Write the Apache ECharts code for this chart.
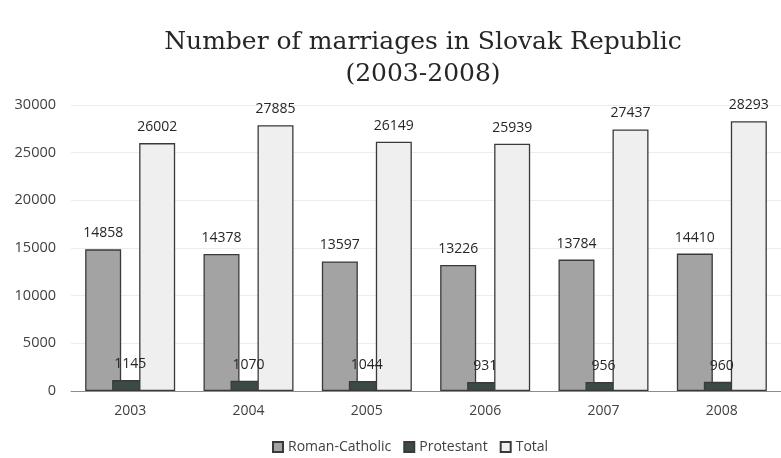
<!DOCTYPE html>
<html><head><meta charset="utf-8">
<script src="https://cdn.jsdelivr.net/npm/echarts@6/dist/echarts.min.js"></script>
<style>html,body{margin:0;padding:0;background:#fff}#c{width:781px;height:458px}</style>
</head><body><div id="c"></div>
<script>
const years = ['2003','2004','2005','2006','2007','2008'];
const romanCatholic = [14858, 14378, 13597, 13226, 13784, 14410];
const protestant = [1145, 1070, 1044, 931, 956, 960];
const total = [26002, 27885, 26149, 25939, 27437, 28293];
const yTicks = {min: 0, max: 30000, interval: 5000};

const chart = echarts.init(document.getElementById('c'), null, {renderer: 'canvas'});
const lbl = {show: true, position: 'top', distance: 9, color: '#262626', fontSize: 14, fontFamily: 'Open Sans'};
const border = {borderColor: '#3a3a3a', borderWidth: 1.3};
chart.setOption({
  animation: false,
  backgroundColor: '#fff',
  title: {
    text: 'Number of marriages in Slovak Republic\n(2003-2008)',
    left: 418, top: 21, textAlign: 'center',
    textStyle: {fontFamily: 'DejaVu Serif', fontWeight: 'normal', fontSize: 25, color: '#262626', lineHeight: 32}
  },
  legend: {
    top: 435, left: 267,
    itemWidth: 10, itemHeight: 10, itemGap: 12,
    icon: 'rect',
    textStyle: {fontFamily: 'Open Sans', fontSize: 14, color: '#404040'},
    data: ['Roman-Catholic', 'Protestant', 'Total']
  },
  grid: {left: 71, top: 105, width: 712, height: 286, containLabel: false},
  xAxis: {
    type: 'category', data: years,
    axisLine: {lineStyle: {color: '#8c8c8c', width: 1}},
    axisTick: {show: false},
    axisLabel: {fontFamily: 'Open Sans', fontSize: 14, color: '#404040', margin: 13}
  },
  yAxis: {
    type: 'value', min: yTicks.min, max: yTicks.max, interval: yTicks.interval,
    axisLine: {show: false}, axisTick: {show: false},
    axisLabel: {fontFamily: 'Open Sans', fontSize: 14.5, color: '#404040', margin: 15, formatter: v => String(v)},
    splitLine: {lineStyle: {color: '#ececec', width: 1}}
  },
  series: [
    {name: 'Roman-Catholic', type: 'bar', data: romanCatholic, barWidth: 36, barGap: '-25%',
     itemStyle: Object.assign({color: '#a3a3a3'}, border), label: lbl},
    {name: 'Protestant', type: 'bar', data: protestant, barWidth: 36, barGap: '-25%',
     itemStyle: Object.assign({color: '#3b4947'}, border), label: lbl},
    {name: 'Total', type: 'bar', data: total, barWidth: 36, barGap: '-25%',
     itemStyle: Object.assign({color: '#efefef'}, border), label: lbl}
  ]
});
</script></body></html>
